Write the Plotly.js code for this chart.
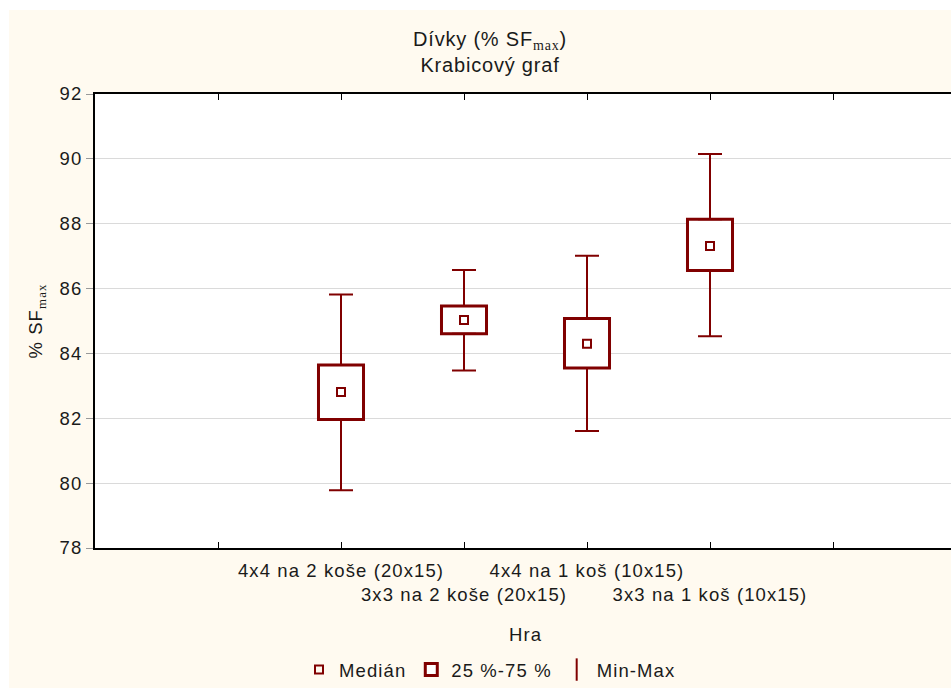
<!DOCTYPE html>
<html>
<head>
<meta charset="utf-8">
<script src="https://cdn.plot.ly/plotly-3.0.1.min.js"></script>
<style>
  html, body { margin: 0; padding: 0; background: #ffffff; overflow: hidden; width: 951px; height: 688px; }
  #chart { position: absolute; left: 9px; top: 10px; width: 962px; height: 678px; }
  text { letter-spacing: 1.1px; }
  text.gtitle { letter-spacing: 0.8px; }
</style>
</head>
<body>
<div id="chart"></div>
<script>
// ---- data ----
const categories = [
  "4x4 na 2 koše (20x15)",
  "3x3 na 2 koše (20x15)",
  "4x4 na 1 koš (10x15)",
  "3x3 na 1 koš (10x15)"
];
const minVals    = [79.78, 83.47, 81.61, 84.53];
const q1Vals     = [81.96, 84.61, 83.55, 86.56];
const medianVals = [82.81, 85.03, 84.30, 87.31];
const q3Vals     = [83.64, 85.46, 85.08, 88.14];
const maxVals    = [85.82, 86.57, 87.01, 90.15];
const yTicks = [78, 80, 82, 84, 86, 88, 90, 92];

// ---- derived ----
const xPos = categories.map((c, i) => i);
const col = '#800000';
const fontFam = 'Arial, "Liberation Sans", sans-serif';
const serif = "font-family:'Liberation Serif','Times New Roman',serif";

// tick labels staggered on two rows
const tickVals = [-1].concat(xPos, [4, 5]);
const tickText = [''].concat(categories.map((c, i) => (i % 2 === 1 ? '<br>' + c : c)), ['', '']);

const traces = [
  {
    type: 'scatter', mode: 'markers', name: 'Medián',
    x: xPos, y: medianVals,
    marker: { symbol: 'square-open', size: 8, color: col, line: { color: col, width: 2 } },
    hoverinfo: 'y'
  },
  {
    type: 'bar', name: '25 %-75 %',
    x: xPos, base: q1Vals, y: q3Vals.map((v, i) => v - q1Vals[i]),
    width: 0.366,
    marker: { color: '#ffffff', line: { color: col, width: 3 } },
    hoverinfo: 'none'
  },
  {
    type: 'scatter', mode: 'markers', name: 'whiskers', showlegend: false,
    x: xPos.concat(xPos), y: q3Vals.concat(q1Vals),
    marker: { size: 1, color: 'rgba(0,0,0,0)' },
    error_y: {
      type: 'data', symmetric: false,
      array: maxVals.map((v, i) => v - q3Vals[i]).concat(q1Vals.map(() => 0)),
      arrayminus: q3Vals.map(() => 0).concat(q1Vals.map((v, i) => v - minVals[i])),
      color: col, thickness: 2, width: 12
    },
    hoverinfo: 'none'
  },
  {
    type: 'scatter', mode: 'markers', name: 'Min-Max',
    x: [null], y: [null],
    marker: { symbol: 'line-ns-open', size: 16, color: col, line: { color: col, width: 2 } }
  }
];

const layout = {
  width: 962, height: 678,
  paper_bgcolor: '#fffaf0',
  plot_bgcolor: '#ffffff',
  font: { family: fontFam, size: 18.5, color: '#1a1a1a' },
  margin: { l: 86, r: 15, t: 84, b: 140, pad: 0 },
  showlegend: true,
  title: {
    text: 'Dívky (% SF<sub><span style="' + serif + '">max</span></sub>)<br>Krabicový graf',
    x: 0.5, xref: 'container', xanchor: 'center',
    y: 0.947, yref: 'container', yanchor: 'top',
    font: { family: fontFam, size: 20, color: '#1a1a1a' }
  },
  xaxis: {
    range: [-2, 5],
    tickmode: 'array', tickvals: tickVals, ticktext: tickText, tickangle: 0,
    ticks: 'inside', ticklen: 6, tickwidth: 1, tickcolor: '#000',
    ticklabelstandoff: 5,
    showline: true, linecolor: '#000', linewidth: 2, mirror: 'allticks',
    showgrid: false, zeroline: false,
    tickfont: { family: fontFam, size: 18.5, color: '#1a1a1a' },
    title: { text: 'Hra', standoff: 24, font: { family: fontFam, size: 18.5, color: '#1a1a1a' } }
  },
  yaxis: {
    range: [78, 92],
    tickmode: 'array', tickvals: yTicks,
    ticks: 'outside', ticklen: 7, tickwidth: 1, tickcolor: '#999',
    showline: true, linecolor: '#000', linewidth: 2,
    showgrid: true, gridcolor: '#dadada', gridwidth: 1, zeroline: false,
    tickfont: { family: fontFam, size: 18.5, color: '#1a1a1a' },
    title: { text: '% SF<sub><span style="' + serif + '">max</span></sub>', standoff: 12,
             font: { family: fontFam, size: 18.5, color: '#1a1a1a' } }
  },
  legend: {
    orientation: 'h', xref: 'container', x: 0.5, xanchor: 'center',
    yref: 'container', y: 0.0265, yanchor: 'middle',
    bgcolor: 'rgba(0,0,0,0)', itemwidth: 30,
    font: { family: fontFam, size: 18.5, color: '#1a1a1a' }
  },
  bargap: 0
};

Plotly.newPlot('chart', traces, layout, { displayModeBar: false, staticPlot: true });
</script>
</body>
</html>
